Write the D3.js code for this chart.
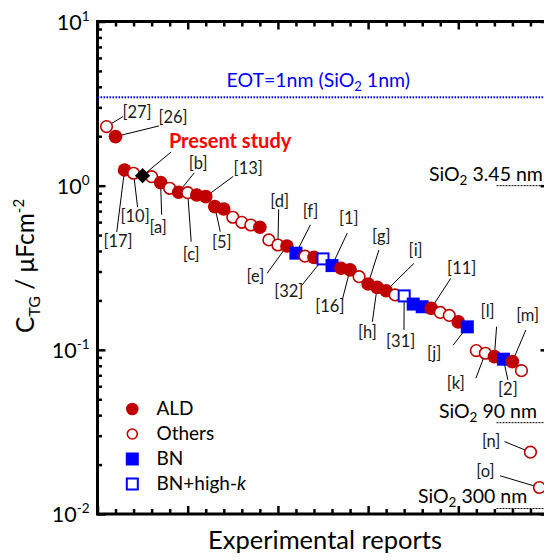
<!DOCTYPE html>
<html lang="en">
<head>
<meta charset="UTF-8">
<script src="https://d3js.org/d3.v7.min.js"></script>
<style>
  body { margin: 0; background: #fff; }
  svg { display: block; font-family: Lato, "Open Sans", sans-serif; }
  .tick text { display: none; }
  .axis path { display: none; }
  .axis line { stroke: #000; stroke-width: 2.5px; }
  .leader { stroke: #000; stroke-width: 1px; }
</style>
</head>
<body>
<script>
// reports, sorted by top-gate capacitance (uF/cm^2)
var refLabels = ["[27]","[26]","[17]","[10]","Present study","","[a]","","[b]","[c]",
  "","[13]","[5]","","","","","","","[d]",
  "[e]","[f]","","","[32]","[1]","","[16]","","[g]",
  "[h]","[i]","","[31]","","","[11]","","","",
  "[j]","","[k]","[l]","[2]","[m]","","[n]","[o]"];

var method = ["Others","ALD","ALD","Others","Present","Others","ALD","Others","ALD","Others",
  "ALD","ALD","ALD","ALD","Others","Others","Others","ALD","Others","Others",
  "ALD","BN","Others","ALD","BN+high-k","BN","ALD","ALD","Others","ALD",
  "ALD","ALD","Others","BN+high-k","BN","BN","ALD","Others","Others","ALD",
  "BN","Others","Others","ALD","BN","ALD","Others","Others","Others"];

var ctg = [2.29, 1.99, 1.246, 1.19, 1.15, 1.134, 1.043, 0.964, 0.912, 0.906,
  0.878, 0.857, 0.745, 0.721, 0.642, 0.598, 0.576, 0.558, 0.467, 0.435,
  0.429, 0.388, 0.372, 0.366, 0.358, 0.326, 0.314, 0.307, 0.279, 0.252,
  0.240, 0.229, 0.216, 0.213, 0.190, 0.183, 0.179, 0.169, 0.162, 0.148,
  0.138, 0.0989, 0.0953, 0.0909, 0.0877, 0.0848, 0.0747, 0.0238, 0.0145];

// reference lines
var eotValue = 3.45;
var sio2Names = ["3.45 nm", "90 nm", "300 nm"];
var sio2Values = [1.0, 0.036, 0.0108];

var legendNames = ["ALD", "Others", "BN", "BN+high-k"];

// label placement: [label dx, label dy, leader end dx, leader end dy] from the point
var labelLayout = {
  "[27]": [30.5, -14.7, 16.5, -10],
  "[26]": [57.5, -19.7, 43.5, -10.7],
  "[17]": [-6.5, 71, -7.8, 62],
  "[10]": [1.5, 43, 4, 34],
  "Present study": [87.5, -34.7, 28.5, -23.7],
  "[a]": [-2.5, 44.8, 1, 32],
  "[b]": [19.5, -29.3, 15.5, -19.3],
  "[c]": [3.5, 61.8, 3.5, 49],
  "[13]": [42.5, -28.8, 27.5, -20.3],
  "[5]": [7, 35.6, 5.5, 25],
  "[d]": [1.8, -43.3, 0.8, -35.7],
  "[e]": [-31.5, 30.7, -19.8, 27.3],
  "[f]": [14.5, -41.6, 14.5, -28.3],
  "[32]": [-34.2, 32.7, -20.8, 26],
  "[1]": [16.8, -47.4, 15.2, -32.4],
  "[16]": [-20.2, 36.7, -7.8, 30],
  "[g]": [13.2, -48, 10.8, -34],
  "[h]": [-9.8, 44.4, -4.8, 34.4],
  "[i]": [29.5, -40.7, 27.8, -27.4],
  "[31]": [-3.5, 45.7, -0.2, 34],
  "[11]": [30.5, -40, 19.5, -30],
  "[j]": [-33.2, 26.6, -14.2, 18.3],
  "[k]": [-29.5, 30, -9.5, 25],
  "[l]": [-6.8, -45, 2.2, -30],
  "[2]": [4.5, 29.7, 4.5, 20.7],
  "[m]": [15.2, -46.7, 13.5, -31.7],
  "[n]": [-39.3, -11.3, -26, -10.6],
  "[o]": [-54, -16.7, -39.3, -11.7]
};

var red = "#C00000", blue = "#0000FF";

var W = 544, H = 558;
var margin = {top: 21.5, left: 97.5},
    width = 451,
    height = 492.5;

var svg = d3.select("body").append("svg")
  .attr("width", W)
  .attr("height", H);

var g = svg.append("g")
  .attr("transform", "translate(" + margin.left + "," + margin.top + ")");

var x = d3.scaleLinear().domain([0, 25]).range([0, width]);
var y = d3.scaleLog().domain([0.01, 10]).range([height, 0]);

// ticks
var xMajor = d3.range(0, 26, 5),
    xMinor = d3.range(0, 26, 1).filter(function(d) { return d % 5 !== 0; });
var yMajor = [0.01, 0.1, 1, 10],
    yMinor = y.ticks().filter(function(d) { return yMajor.indexOf(d) < 0; });

function addAxis(axisFn, scale, values, size, transform) {
  g.append("g")
    .attr("class", "axis")
    .attr("transform", transform || null)
    .call(axisFn(scale).tickValues(values).tickSize(size).tickFormat(""));
}
addAxis(d3.axisBottom, x, xMajor, -8, "translate(0," + height + ")");
addAxis(d3.axisBottom, x, xMinor, -5, "translate(0," + height + ")");
addAxis(d3.axisTop, x, xMajor, -8);
addAxis(d3.axisTop, x, xMinor, -5);
addAxis(d3.axisLeft, y, yMajor, -8);
addAxis(d3.axisLeft, y, yMinor, -4.5);
addAxis(d3.axisRight, y, yMajor, -8, "translate(" + width + ",0)");
addAxis(d3.axisRight, y, yMinor, -4.5, "translate(" + width + ",0)");

// frame
g.append("rect")
  .attr("width", width)
  .attr("height", height)
  .attr("fill", "none")
  .attr("stroke", "#000")
  .attr("stroke-width", 3);

// y tick labels 10^n
yMajor.forEach(function(v) {
  var t = g.append("text")
    .attr("x", -8)
    .attr("y", y(v) + 8)
    .attr("text-anchor", "end")
    .style("font-size", "21.5px");
  t.append("tspan").text("10");
  t.append("tspan")
    .attr("dy", -9)
    .style("font-size", "13.5px")
    .text(String(Math.round(Math.log10(v))));
});

// axis titles
svg.append("text")
  .attr("x", 325)
  .attr("y", 549)
  .attr("text-anchor", "middle")
  .style("font-size", "25.5px")
  .text("Experimental reports");

var yt = svg.append("text")
  .attr("text-anchor", "middle")
  .attr("transform", "translate(34,266)rotate(-90)")
  .style("font-size", "24.5px");
yt.append("tspan").text("C");
yt.append("tspan").attr("dy", 6).style("font-size", "16px").text("TG");
yt.append("tspan").attr("dy", -6).text(" / \u03bcFcm");
yt.append("tspan").attr("dy", -10).style("font-size", "15px").text("-2");

// EOT = 1 nm line
g.append("line")
  .attr("x1", 0).attr("x2", width)
  .attr("y1", y(eotValue)).attr("y2", y(eotValue))
  .attr("stroke", blue)
  .attr("stroke-width", 2)
  .attr("stroke-dasharray", "1.6,1.4");

var eot = g.append("text")
  .attr("x", 129)
  .attr("y", y(eotValue) - 10.5)
  .attr("fill", blue)
  .style("font-size", "19.5px");
eot.append("tspan").text("EOT=1nm (SiO");
eot.append("tspan").attr("dy", 4).style("font-size", "13px").text("2");
eot.append("tspan").attr("dy", -4).text(" 1nm)");

// SiO2 thickness references
var sio2TextX = [331.5, 341.5, 320.5],
    sio2TextDy = [-5, -5, -6];
sio2Values.forEach(function(v, i) {
  g.append("line")
    .attr("x1", 399).attr("x2", width)
    .attr("y1", y(v)).attr("y2", y(v))
    .attr("stroke", "#000")
    .attr("stroke-width", 1)
    .attr("stroke-dasharray", "2,1");
  var t = g.append("text")
    .attr("x", sio2TextX[i])
    .attr("y", y(v) + sio2TextDy[i])
    .style("font-size", "19.5px");
  t.append("tspan").text("SiO");
  t.append("tspan").attr("dy", 4).style("font-size", "13.5px").text("2");
  t.append("tspan").attr("dy", -4).text(" " + sio2Names[i]);
});

// points
var pts = ctg.map(function(v, i) {
  return {px: x((i + 1) / 2), py: y(v), label: refLabels[i], type: method[i]};
});

// leader lines (under the markers)
pts.forEach(function(p) {
  if (!p.label) return;
  var L = labelLayout[p.label];
  g.append("line")
    .attr("class", "leader")
    .attr("x1", p.px).attr("y1", p.py)
    .attr("x2", p.px + L[2]).attr("y2", p.py + L[3]);
});

function drawMarker(sel, type, cx, cy, legend) {
  if (type === "ALD") {
    sel.append("circle").attr("cx", cx).attr("cy", cy).attr("r", legend ? 6.3 : 6.8)
      .attr("fill", red);
  } else if (type === "Others") {
    sel.append("circle").attr("cx", cx).attr("cy", cy).attr("r", legend ? 5 : 5.8)
      .attr("fill", "#fff").attr("stroke", red).attr("stroke-width", 1.6);
  } else if (type === "BN") {
    sel.append("rect").attr("x", cx - 6.5).attr("y", cy - 6.5)
      .attr("width", 13).attr("height", 13).attr("fill", blue);
  } else if (type === "BN+high-k") {
    sel.append("rect").attr("x", cx - 5.5).attr("y", cy - 5.5)
      .attr("width", 11).attr("height", 11)
      .attr("fill", "#fff").attr("stroke", blue).attr("stroke-width", 2);
  } else {
    sel.append("rect").attr("x", cx - 5.4).attr("y", cy - 5.4)
      .attr("width", 10.8).attr("height", 10.8)
      .attr("transform", "rotate(45," + cx + "," + cy + ")")
      .attr("fill", "#000");
  }
}

// markers in report order, present study on top
var markers = g.append("g");
pts.filter(function(p) { return p.type !== "Present"; })
  .forEach(function(p) { drawMarker(markers, p.type, p.px, p.py, false); });
pts.filter(function(p) { return p.type === "Present"; })
  .forEach(function(p) { drawMarker(markers, p.type, p.px, p.py, false); });

// reference labels
pts.forEach(function(p) {
  if (!p.label) return;
  var L = labelLayout[p.label];
  var present = p.label === "Present study";
  g.append("text")
    .attr("x", p.px + L[0])
    .attr("y", p.py + L[1])
    .attr("dy", "0.35em")
    .attr("text-anchor", "middle")
    .attr("fill", present ? "#FF0000" : "#1a1a1a")
    .style("font-size", present ? "20px" : "16.5px")
    .style("font-weight", present ? "bold" : "normal")
    .text(p.label);
});

// legend
var lg = svg.append("g");
legendNames.forEach(function(name, i) {
  var cy = 409 + i * 25;
  drawMarker(lg, name, 132.3, cy, true);
  var t = lg.append("text")
    .attr("x", 156.5)
    .attr("y", cy + 6)
    .style("font-size", "19px");
  if (name === "BN+high-k") {
    t.append("tspan").text("BN+high-");
    t.append("tspan").style("font-style", "italic").text("k");
  } else {
    t.text(name);
  }
});
</script>
</body>
</html>
